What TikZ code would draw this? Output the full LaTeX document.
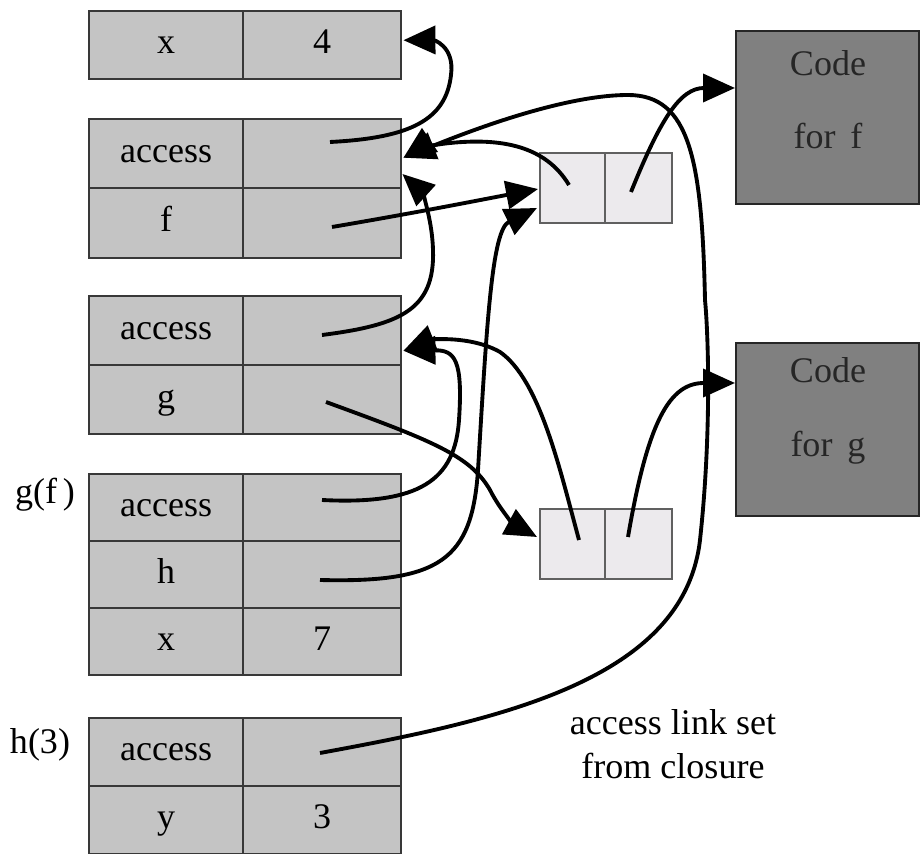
\documentclass[tikz,border=0pt]{standalone}
\usepackage{fontspec}
\setmainfont{Liberation Serif}
\usetikzlibrary{arrows.meta,calc}
\definecolor{framegray}{HTML}{C4C4C4}
\definecolor{clozgray}{HTML}{ECEAED}
\definecolor{codegray}{HTML}{808080}
\definecolor{edgegray}{HTML}{383838}
\newcommand\txtfont{\fontsize{20.5}{24.6}\selectfont}
\begin{document}
\begin{tikzpicture}[x=0.02cm,y=-0.02cm,
  cellL/.style={draw=edgegray, line width=1.4pt, fill=framegray, anchor=north west,
    inner sep=0pt, minimum width=3.08cm, font=\txtfont, text height=13.5pt, text depth=4pt},
  cellR/.style={cellL, minimum width=3.16cm},
  cloz/.style={draw=edgegray!80, line width=1.2pt, fill=clozgray, anchor=north west,
    inner sep=0pt, minimum height=1.4cm},
  codebox/.style={draw=black!85, line width=1.2pt, fill=codegray, anchor=north west,
    inner sep=0pt, minimum width=3.66cm, minimum height=3.46cm},
  codetxt/.style={font=\txtfont, text=black!85, align=center},
  lbl/.style={font=\txtfont, align=center},
  ptr/.style={line width=2.2pt, -{Triangle[length=0.64cm,width=0.56cm]}},
]
\useasboundingbox (0,0) rectangle (920,854);

% frame 1
\node[cellL, minimum height=1.36cm] (r1l) at (88,10) {x};
\node[cellR, minimum height=1.36cm] (r1r) at (242,10) {4};
% frame 2
\node[cellL, minimum height=1.38cm] (r2l) at (88,118) {access};
\node[cellR, minimum height=1.38cm] (r2r) at (242,118) {};
\node[cellL, minimum height=1.40cm] (r3l) at (88,187) {f};
\node[cellR, minimum height=1.40cm] (r3r) at (242,187) {};
% frame 3
\node[cellL, minimum height=1.38cm] (r4l) at (88,295) {access};
\node[cellR, minimum height=1.38cm] (r4r) at (242,295) {};
\node[cellL, minimum height=1.38cm] (r5l) at (88,364) {g};
\node[cellR, minimum height=1.38cm] (r5r) at (242,364) {};
% frame 4: g(f)
\node[cellL, minimum height=1.34cm] (r6l) at (88,473) {access};
\node[cellR, minimum height=1.34cm] (r6r) at (242,473) {};
\node[cellL, minimum height=1.34cm] (r7l) at (88,540) {h};
\node[cellR, minimum height=1.34cm] (r7r) at (242,540) {};
\node[cellL, minimum height=1.34cm] (r8l) at (88,607) {x};
\node[cellR, minimum height=1.34cm] (r8r) at (242,607) {7};
% frame 5: h(3)
\node[cellL, minimum height=1.36cm] (r9l) at (88,717) {access};
\node[cellR, minimum height=1.36cm] (r9r) at (242,717) {};
\node[cellL, minimum height=1.36cm] (r10l) at (88,785) {y};
\node[cellR, minimum height=1.36cm] (r10r) at (242,785) {3};

\node[lbl] (gf) at (45,495) {g(f\,)};
\node[lbl] (h3) at (40,745) {h(3)};

% closures
\node[cloz, minimum width=1.30cm] (c1l) at (539,152) {};
\node[cloz, minimum width=1.34cm] (c1r) at (604,152) {};
\node[cloz, minimum width=1.30cm] (c2l) at (539,508) {};
\node[cloz, minimum width=1.34cm] (c2r) at (604,508) {};

% code boxes
\node[codebox] (codef) at (735,30) {};
\node[codebox] (codeg) at (735,342) {};
\node[codetxt] (codeftxt) at (828,100) {Code\\[0.6cm]for\, f};
\node[codetxt] (codegtxt) at (828,411) {Code\\[0.6cm]for\, g};

\node[lbl] (note) at (673,744) {access link set\\[0.02cm]from closure};

% pointer origins
\coordinate (p2) at (330,142);
\coordinate (p3) at (332,227);
\coordinate (p4) at (322,335);
\coordinate (p5) at (326,402);
\coordinate (p6) at (322,500);
\coordinate (p7) at (320,580);
\coordinate (p9) at (320,753);
\coordinate (q1) at (569,185);
\coordinate (q2) at (631,192);
\coordinate (q3) at (579,540);
\coordinate (q4) at (628,537);

% connectors
\draw[ptr] (p2) .. controls (410,138) and (446,120) .. (451,75)
  .. controls (455,45) and (432,40) .. ($(r1r.east)+(1,-5)$);
\draw[ptr] (p9) .. controls (500,720) and (684,680) .. (700,540)
  .. controls (712,430) and (708,330) .. (705,300)
  .. controls (702,160) and (690,95) .. (628,95)
  .. controls (560,95) and (460,135) .. ($(r2r.east)+(1,4)$);
\draw[ptr] (q1) .. controls (545,145) and (500,138) .. (450,143)
  .. controls (430,145) and (415,150) .. ($(r2r.east)+(1,4)$);
\draw[ptr] (p3) .. controls (420,212) and (480,200) .. ($(c1l.west)+(-1,1)$);
\draw[ptr] (q2) .. controls (660,120) and (680,88) .. ($(codef.north west)+(0,58)$);
\draw[ptr] (p4) .. controls (400,325) and (435,310) .. (433,250)
  .. controls (432,215) and (420,190) .. ($(r2r.north east)+(0,56)$);
\draw[ptr] (p5) .. controls (430,440) and (470,455) .. (490,490)
  .. controls (500,510) and (515,525) .. ($(c2l.north west)+(-2,29)$);
\draw[ptr] (q3) .. controls (560,470) and (540,380) .. (500,352)
  .. controls (470,335) and (430,340) .. ($(r4r.east)+(1,20)$);
\draw[ptr] (p6) .. controls (420,505) and (455,480) .. (459,420)
  .. controls (463,360) and (455,350) .. ($(r4r.east)+(1,20)$);
\draw[ptr] (p7) .. controls (440,583) and (472,560) .. (478,470)
  .. controls (487,320) and (492,230) .. ($(c1l.north west)+(-2,56)$);
\draw[ptr] (q4) .. controls (648,420) and (670,383) .. ($(codeg.north west)+(0,41)$);
\end{tikzpicture}
\end{document}
